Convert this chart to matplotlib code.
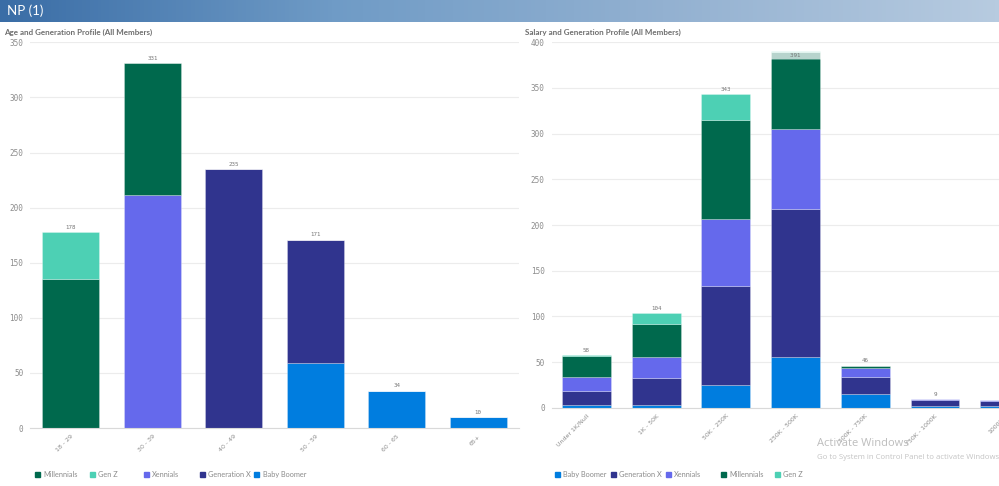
import numpy as np
import matplotlib
matplotlib.use("Agg")
import matplotlib.pyplot as plt
from matplotlib.patches import Rectangle
from matplotlib.colors import LinearSegmentedColormap

# --- data -------------------------------------------------------------
age_groups = ["18 - 29", "30 - 39", "40 - 49", "50 - 59", "60 - 65", "65+"]
age_boomer = [0, 0, 0, 59, 34, 10]
age_genx = [0, 0, 235, 112, 0, 0]
age_xenn = [0, 211, 0, 0, 0, 0]
age_mill = [135, 120, 0, 0, 0, 0]
age_genz = [43, 0, 0, 0, 0, 0]

salary_groups = ["Under 1K/Null", "1K - 50K", "50K - 250K", "250K - 500K",
                 "500K - 750K", "750K - 1000K", "1000K+"]
sal_boomer = [3, 3, 25, 56, 15, 2, 2]
sal_genx = [15, 30, 108, 162, 19, 6, 5]
sal_xenn = [16, 23, 74, 87, 9, 1, 1]
sal_mill = [23, 36, 108, 84, 3, 0, 0]
sal_genz = [1, 12, 28, 2, 0, 0, 0]

COLORS = {
    "Baby Boomer": "#007ddf",
    "Generation X": "#30348e",
    "Xennials": "#6569ec",
    "Millennials": "#00694d",
    "Gen Z": "#4dd0b4",
}
GRAY = "#8c8c8c"
GRID = "#ececec"
MONO = "DejaVu Sans Mono"

W, H = 999, 486
fig = plt.figure(figsize=(W / 100, H / 100), dpi=100)
fig.patch.set_facecolor("white")


def fx(px):
    return px / W


def fy(py):
    return 1 - py / H


# header bar with gradient
hdr = fig.add_axes([0, fy(22), 1, 22 / H])
cmap = LinearSegmentedColormap.from_list("hdr", ["#3a6da6", "#6f9bc6", "#93b1d1", "#b7cbe0"])
hdr.imshow(np.linspace(0, 1, 256)[None, :], aspect="auto", cmap=cmap, extent=[0, 1, 0, 1])
hdr.axis("off")
hdr.text(0.007, 0.5, "NP (1)", color="white", fontsize=9.5, va="center", ha="left",
         family="Lato", transform=hdr.transAxes)


def stacked(ax, cats, layers, ymax, labels_inside=()):
    x = np.arange(len(cats))
    bottom = np.zeros(len(cats))
    for name, vals in layers:
        vals = np.array(vals, dtype=float)
        ax.bar(x, vals, 0.7, bottom=bottom, color=COLORS[name],
               edgecolor=(1, 1, 1, 0.3), linewidth=0.6)
        bottom += vals
    for i, tot in enumerate(bottom):
        if tot <= 0:
            continue
        if i in labels_inside:
            ax.text(i, tot - ymax * 0.006, f"{' ' * 12}{int(tot)}{' ' * 12}", ha="center",
                    va="top", fontsize=4.2, color="#777777", family=MONO,
                    bbox=dict(boxstyle="round,pad=0.3", fc=(1, 1, 1, 0.72), ec="none"))
        else:
            ax.text(i, tot + ymax * 0.006, f"{int(tot)}", ha="center", va="bottom",
                    fontsize=4.2, color="#777777", family=MONO, clip_on=False)
    ax.set_xlim(-0.5, len(cats) - 0.5)
    ax.set_ylim(0, ymax)
    ax.set_yticks(np.arange(0, ymax + 1, 50))
    ax.set_yticklabels([str(v) for v in range(0, ymax + 1, 50)], family=MONO,
                       fontsize=5.5, color=GRAY)
    ax.set_xticks(x)
    ax.set_xticklabels(cats, rotation=45, ha="right", rotation_mode="anchor",
                       fontsize=4.5, color=GRAY)
    ax.tick_params(length=0, pad=5)
    ax.tick_params(axis="x", pad=4)
    ax.grid(axis="y", color=GRID, linewidth=0.8)
    ax.set_axisbelow(True)
    for s in ["top", "right", "left"]:
        ax.spines[s].set_visible(False)
    ax.spines["bottom"].set_color("#d9d9d9")
    ax.spines["bottom"].set_linewidth(0.8)


# left chart
ax1 = fig.add_axes([fx(30.25), fy(428), fx(488.75), (428 - 42.3) / H])
stacked(ax1, age_groups,
        [("Baby Boomer", age_boomer), ("Generation X", age_genx), ("Xennials", age_xenn),
         ("Millennials", age_mill), ("Gen Z", age_genz)], 350)
fig.text(fx(4), fy(32), "Age and Generation Profile (All Members)", fontsize=5.8,
         fontweight="bold", color="#6e6e6e", family="Lato", va="center")

# right chart (runs on past the right edge of the screenshot)
ax2 = fig.add_axes([fx(551.6), fy(407.7), fx(488), (407.7 - 42.3) / H])
stacked(ax2, salary_groups,
        [("Baby Boomer", sal_boomer), ("Generation X", sal_genx), ("Xennials", sal_xenn),
         ("Millennials", sal_mill), ("Gen Z", sal_genz)], 400, labels_inside=(3,))
fig.text(fx(525), fy(32), "Salary and Generation Profile (All Members)", fontsize=5.8,
         fontweight="bold", color="#6e6e6e", family="Lato", va="center")


def legend(items, y):
    for name, xs in items:
        fig.add_artist(Rectangle((fx(xs - 2.5), fy(y + 2.5)), fx(5), 5 / H,
                                 transform=fig.transFigure, color=COLORS[name]))
        fig.text(fx(xs + 6), fy(y), name, fontsize=5.3, color=GRAY, va="center", family="Lato")


legend([("Millennials", 37), ("Gen Z", 92), ("Xennials", 146),
        ("Generation X", 202), ("Baby Boomer", 257)], 474)
legend([("Baby Boomer", 557), ("Generation X", 613), ("Xennials", 668),
        ("Millennials", 723), ("Gen Z", 777)], 474)

# windows watermark
fig.text(fx(817), fy(444), "Activate Windows", fontsize=8, color="#bdbdbd",
         family="Open Sans", va="center")
fig.text(fx(817), fy(457), "Go to System in Control Panel to activate Windows.",
         fontsize=5.6, color="#c4c4c4", family="Open Sans", va="center")

fig.savefig("out.png", dpi=100, facecolor="white")
